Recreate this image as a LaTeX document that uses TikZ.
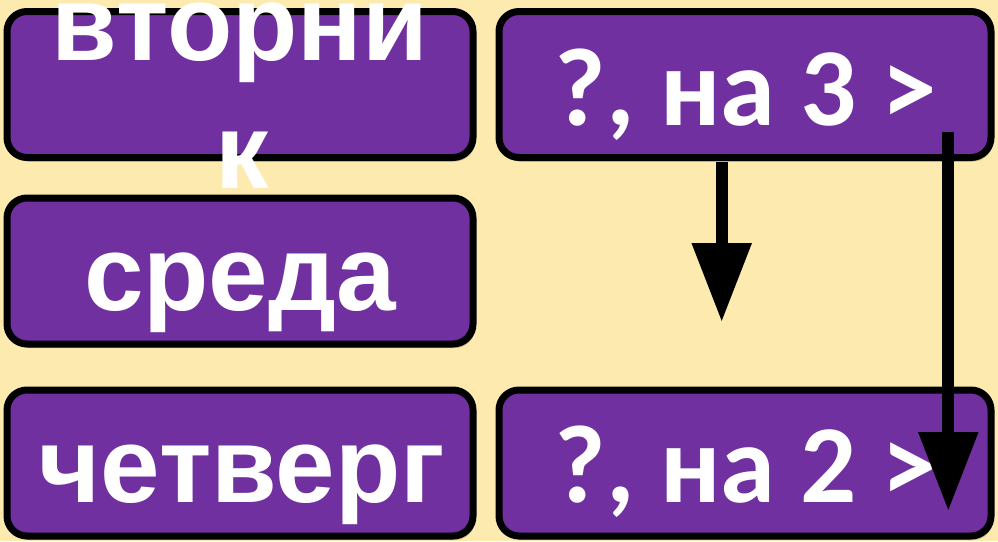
\documentclass[tikz,border=0pt]{standalone}
\usepackage{fontspec}
\setmainfont{Liberation Sans}
\newfontfamily\calfont{Carlito}
\usetikzlibrary{arrows.meta}
\definecolor{bgc}{HTML}{FDEAAE}
\definecolor{boxc}{HTML}{7030A0}
\begin{document}
\begin{tikzpicture}[x=1pt,y=-1pt,
  daybox/.style={draw=black,line width=7pt,fill=boxc,rounded corners=20pt,
    minimum width=#1,minimum height=146pt,inner sep=0pt,outer sep=0pt,
    preaction={fill=black!70!brown,opacity=0.25,transform canvas={shift={(2pt,-4pt)}}}},
  lbl/.style={text=white,font=\fontsize{107}{123}\selectfont\bfseries,anchor=base,inner sep=0pt},
  rlbl/.style={text=white,font=\fontsize{111}{128}\selectfont\calfont\bfseries,anchor=base,inner sep=0pt},
  arr/.style={line width=12pt,-{Triangle[length=79pt,width=57pt]}}]
\fill[bgc] (0,0) rectangle (998,541);
\useasboundingbox (0,0) rectangle (998,541);
\node[daybox=466pt] (tue) at (240,84.5) {};
\node[daybox=492pt] (q3) at (745,84.5) {};
\node[daybox=466pt] (wed) at (240,271) {};
\node[daybox=466pt] (thu) at (240,463) {};
\node[daybox=492pt] (q2) at (745,463) {};
\node[lbl] (tuet1) at (240,60) {вторни};
\node[lbl] (tuet2) at (242,188) {к};
\node[lbl] (wedt) at (240,310) {среда};
\node[lbl] (thut) at (242,502) {четверг};
\node[rlbl] (q3t) at (746,125) {?, на 3 >};
\node[rlbl] (q2t) at (746,502) {?, на 2 >};
\coordinate (a1s) at (721.7,162);
\coordinate (a1e) at (721.7,322);
\coordinate (a2s) at (948.3,132);
\coordinate (a2e) at (948.3,511);
\draw[arr] (a1s) -- (a1e);
\draw[arr] (a2s) -- (a2e);
\end{tikzpicture}
\end{document}
